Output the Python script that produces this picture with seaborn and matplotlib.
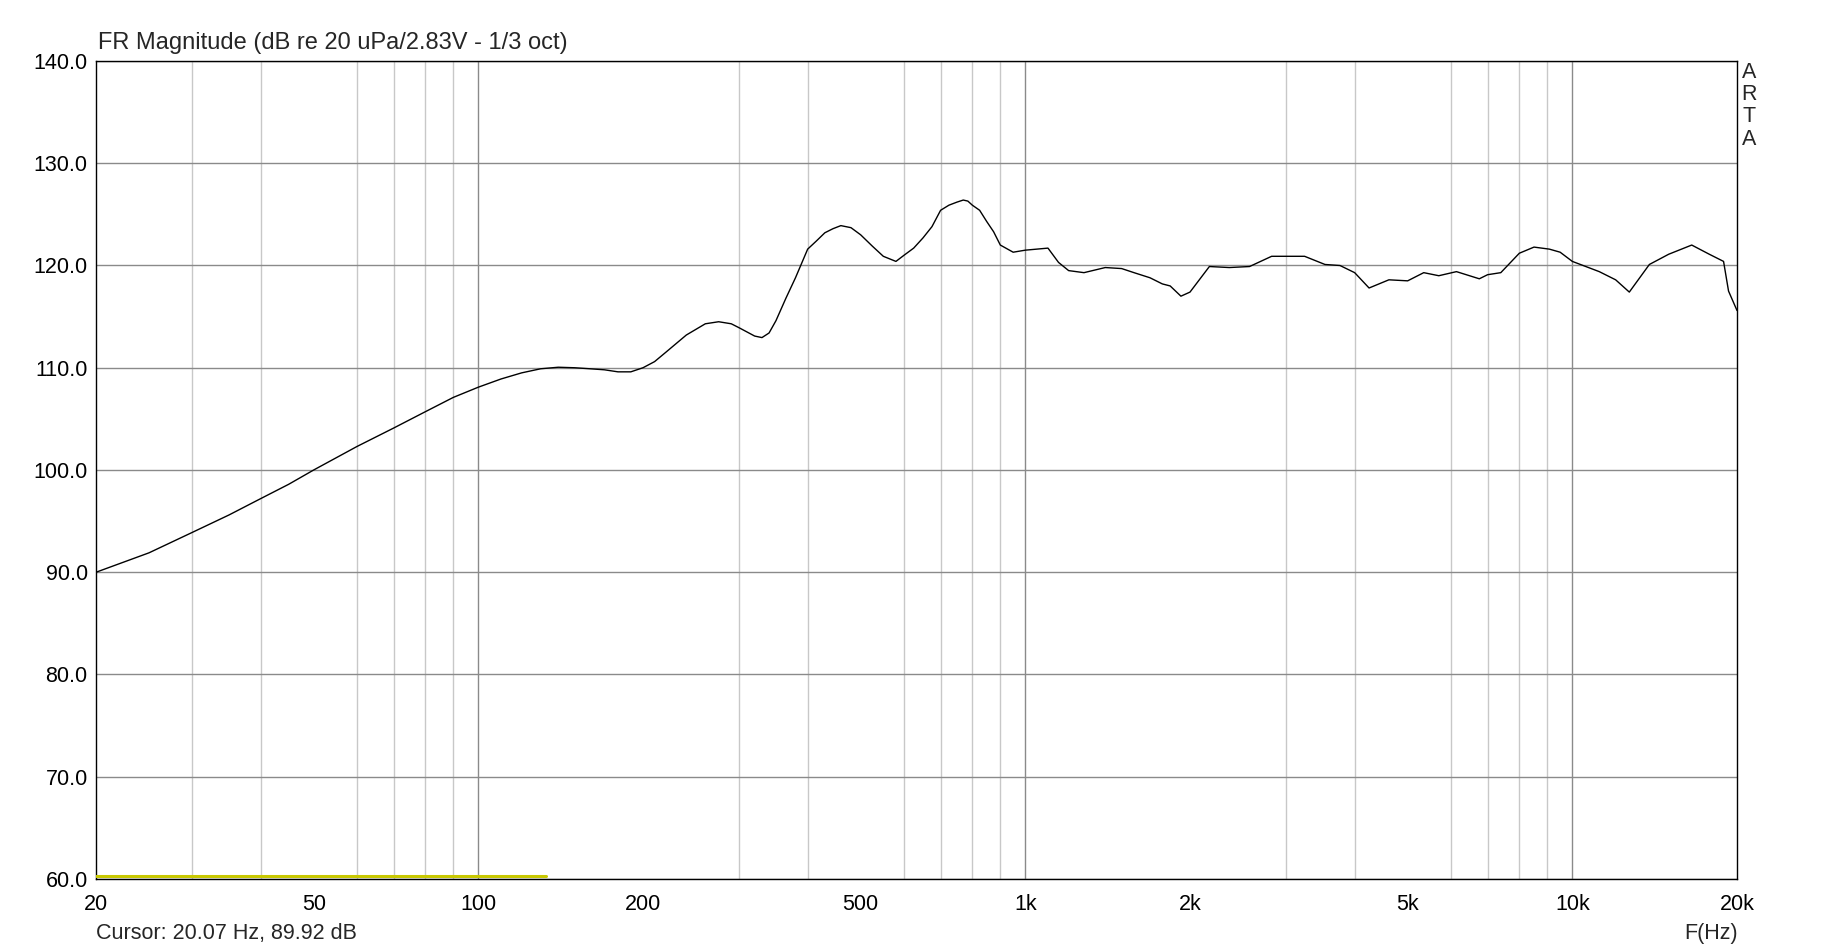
import matplotlib
matplotlib.use("Agg")
import matplotlib.pyplot as plt
import matplotlib.ticker as mticker
import seaborn as sns
import pandas as pd

# =========================
# Data
# =========================
freq_hz = [20, 25, 30, 35, 40, 45, 50, 60, 70, 80, 90, 100, 110, 120, 130, 140,
           150, 160, 170, 180, 190, 200, 210, 220, 240, 260, 275, 290, 300, 320,
           330, 340, 350, 365, 380, 400, 415, 430, 445, 460, 480, 500, 525, 550,
           580, 600, 625, 650, 675, 700, 725, 750, 770, 785, 800, 825, 850, 875,
           900, 950, 1000, 1100, 1150, 1200, 1280,
           1400, 1500, 1580, 1690, 1780, 1840, 1925, 2000, 2170, 2360, 2570, 2820,
           3000, 3240, 3530, 3760, 4000, 4250, 4620, 5000, 5350, 5700, 6140, 6760,
           7000, 7400, 8000, 8510, 9080, 9500, 10000, 11200, 12000, 12710, 13830,
           15000, 16530, 17800, 18900, 19300, 20000]
level_db = [90.0, 91.9, 93.9, 95.6, 97.2, 98.6, 100.0, 102.3, 104.1, 105.7, 107.1,
            108.1, 108.9, 109.5, 109.9, 110.05, 110.0, 109.9, 109.8, 109.6, 109.6,
            110.0, 110.6, 111.5, 113.2, 114.3, 114.5, 114.3, 113.9, 113.1, 112.95,
            113.4, 114.6, 116.8, 118.8, 121.6, 122.4, 123.2, 123.6, 123.9, 123.7,
            123.0, 121.9, 120.9, 120.4, 121.0, 121.7, 122.7, 123.8, 125.4, 125.9,
            126.2, 126.4, 126.3, 125.9, 125.4, 124.3, 123.3, 122.0,
            121.3, 121.5, 121.7, 120.3, 119.5, 119.3, 119.8, 119.7, 119.3, 118.8,
            118.2, 118.0, 117.0, 117.4, 119.9, 119.8, 119.9, 120.9, 120.9, 120.9,
            120.1, 120.0, 119.3, 117.8, 118.6, 118.5, 119.3, 119.0, 119.4, 118.7,
            119.1, 119.3, 121.2, 121.8, 121.6, 121.3, 120.4, 119.4, 118.6, 117.4,
            120.1, 121.1, 122.0, 121.1, 120.4, 117.5, 115.6]

# cursor marker line at the bottom
cursor_freq = [20, 133]
cursor_db = [60.3, 60.3]

xtick_vals = [20, 50, 100, 200, 500, 1000, 2000, 5000, 10000, 20000]
xtick_labels = ["20", "50", "100", "200", "500", "1k", "2k", "5k", "10k", "20k"]
grid_minor = [30, 40, 50, 60, 70, 80, 90, 200, 300, 400, 500, 600, 700, 800, 900,
              2000, 3000, 4000, 5000, 6000, 7000, 8000, 9000]
grid_major = [100, 1000, 10000]
ytick_vals = [60, 70, 80, 90, 100, 110, 120, 130, 140]

df = pd.DataFrame({"freq": freq_hz, "db": level_db})
df_cur = pd.DataFrame({"freq": cursor_freq, "db": cursor_db})

# =========================
# Style
# =========================
sns.set_style("white")
plt.rcParams["font.family"] = ["Liberation Sans", "DejaVu Sans"]
FS = 15.5

fig = plt.figure(figsize=(18.33, 9.5), dpi=100)
ax = fig.add_axes([96 / 1833, 1 - 879 / 950, (1737 - 96) / 1833, (879 - 61) / 950])

ax.set_xscale("log")
ax.set_xlim(20, 20000)
ax.set_ylim(60, 140)

# grid
ax.xaxis.set_minor_locator(mticker.FixedLocator(grid_minor))
ax.xaxis.set_minor_formatter(mticker.NullFormatter())
ax.grid(which="minor", axis="x", color="#c8c8c8", lw=1.0)
for g in grid_major:
    ax.axvline(g, color="#8a8a8a", lw=1.0, zorder=1)
ax.set_yticks(ytick_vals)
ax.yaxis.set_major_formatter(mticker.FormatStrFormatter("%.1f"))
ax.grid(which="major", axis="y", color="#8a8a8a", lw=1.0)
ax.set_axisbelow(True)

ax.set_xticks(xtick_vals)
ax.set_xticklabels(xtick_labels)
ax.tick_params(axis="both", which="both", length=0, labelsize=FS, colors="black")
ax.tick_params(axis="x", pad=11)
ax.tick_params(axis="y", pad=6)

sns.lineplot(data=df_cur, x="freq", y="db", color="#c8c800", lw=2.2, ax=ax, zorder=3)
sns.lineplot(data=df, x="freq", y="db", color="black", lw=1.0, ax=ax, zorder=4)
ax.set_xlabel("")
ax.set_ylabel("")

for s in ax.spines.values():
    s.set_color("black")
    s.set_linewidth(1.0)
    s.set_visible(True)

# =========================
# Texts
# =========================
fig.text(98 / 1833, 1 - 43 / 950, "FR Magnitude (dB re 20 uPa/2.83V - 1/3 oct)",
         fontsize=17, va="center", ha="left")
fig.text(96 / 1833, 1 - 934 / 950, "Cursor: 20.07 Hz, 89.92 dB",
         fontsize=FS, va="center", ha="left")
fig.text(1711 / 1833, 1 - 934 / 950, "F(Hz)", fontsize=FS, va="center", ha="center")
for i, ch in enumerate("ARTA"):
    fig.text(1749 / 1833, 1 - (72 + 22.5 * i) / 950, ch, fontsize=FS,
             va="center", ha="center")

fig.savefig("out.png", dpi=100)
